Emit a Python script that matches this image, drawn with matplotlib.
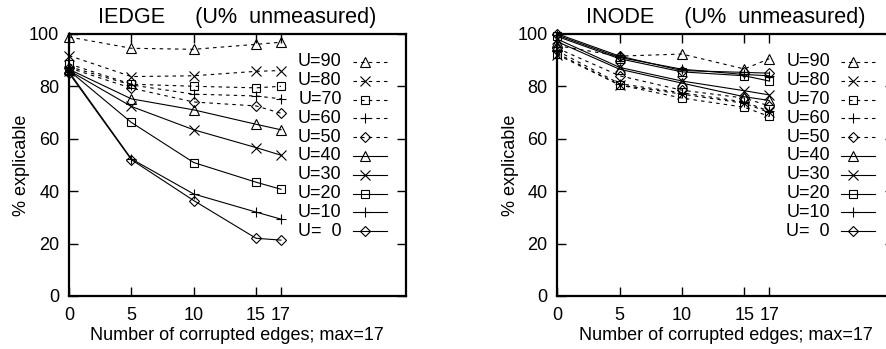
import numpy as np
import matplotlib
matplotlib.use("Agg")
import matplotlib.pyplot as plt

plt.rcParams['font.family'] = ['Liberation Sans', 'DejaVu Sans']
plt.rcParams['font.size'] = 13
plt.rcParams['lines.scale_dashes'] = False

# number of corrupted edges
edges = [0, 5, 10, 15, 17]
u_levels = [90, 80, 70, 60, 50, 40, 30, 20, 10, 0]

# % explicable, IEDGE
iedge = {
    90: [98.8, 94.5, 94.1, 96.0, 96.8],
    80: [91.7, 83.7, 84.0, 85.7, 86.0],
    70: [88.5, 80.8, 80.0, 79.4, 80.0],
    60: [87.5, 80.5, 77.0, 76.3, 75.2],
    50: [87.0, 79.3, 74.0, 72.5, 69.7],
    40: [86.5, 75.2, 71.0, 65.5, 63.4],
    30: [86.0, 72.3, 63.4, 56.6, 53.7],
    20: [86.0, 66.2, 50.9, 43.4, 40.7],
    10: [85.5, 52.3, 38.9, 32.0, 29.3],
    0:  [85.0, 52.0, 36.4, 22.0, 21.3],
}

# % explicable, INODE
inode = {
    90: [95.5, 91.5, 92.3, 86.6, 90.5],
    80: [92.0, 80.5, 77.0, 73.5, 70.0],
    70: [92.5, 80.5, 75.5, 72.0, 68.5],
    60: [93.5, 81.0, 77.5, 74.0, 70.5],
    50: [94.5, 84.0, 78.5, 75.5, 72.5],
    40: [97.0, 86.5, 81.2, 76.0, 74.6],
    30: [98.0, 87.2, 82.0, 78.3, 76.7],
    20: [99.0, 90.5, 85.5, 84.0, 82.0],
    10: [99.5, 91.0, 86.5, 84.5, 84.0],
    0:  [100.0, 91.5, 86.0, 85.3, 85.0],
}

markers = {90: '^', 80: 'x', 70: 's', 60: '+', 50: 'D',
           40: '^', 30: 'x', 20: 's', 10: '+', 0: 'D'}
msizes = {'^': 6.5, 'x': 6.5, 's': 6, '+': 7.5, 'D': 5}
dashed = (0, (2.5, 3.0))


def style(u):
    m = markers[u]
    ls = dashed if u >= 50 else '-'
    return dict(color='black', lw=0.8, ls=ls, marker=m, ms=msizes[m],
                mfc='none', mec='black', mew=0.8)


def draw(ax, data, title):
    for u in u_levels:
        ax.plot(edges, data[u], **style(u), clip_on=False, zorder=3)
    ax.set_xlim(0, 27)
    ax.set_ylim(0, 100)
    ax.set_xticks(edges)
    ax.set_xticklabels(['0', '5', '10', '15', '17'])
    ax.set_yticks(range(0, 101, 20))
    ax.tick_params(direction='in', length=6.5, width=1.0, top=True, right=True)
    ax.tick_params(axis='y', pad=7)
    ax.tick_params(axis='x', pad=8)
    for s in ax.spines.values():
        s.set_linewidth(1.6)
    ax.set_title(title, pad=7.5)
    ax.set_xlabel('Number of corrupted edges; max=17', labelpad=2)
    ax.set_ylabel('% explicable', labelpad=-1)

    # gnuplot-style key: right-aligned text, sample line to its right
    y0, dy = 0.893, 0.0718
    for i, u in enumerate(u_levels):
        y = y0 - i * dy
        lab = 'U=%2d' % u if u else 'U=  0'
        ax.text(0.81, y, lab, ha='right', va='center', transform=ax.transAxes)
        st = style(u)
        ax.plot([0.843, 0.944], [y, y], transform=ax.transAxes, color='black',
                lw=0.8, ls=st['ls'], clip_on=False)
        ax.plot([0.878], [y], transform=ax.transAxes, ls='none',
                marker=st['marker'], ms=st['ms'], mfc='none', mec='black',
                mew=0.8, clip_on=False)


fig = plt.figure(figsize=(8.86, 3.49), dpi=100)
ax1 = fig.add_axes([0.0779, 0.152, 0.380, 0.751])
ax2 = fig.add_axes([0.629, 0.152, 0.380, 0.751])

draw(ax1, iedge, 'IEDGE     (U%  unmeasured)')
draw(ax2, inode, 'INODE     (U%  unmeasured)')

fig.savefig('out.png', dpi=100)
